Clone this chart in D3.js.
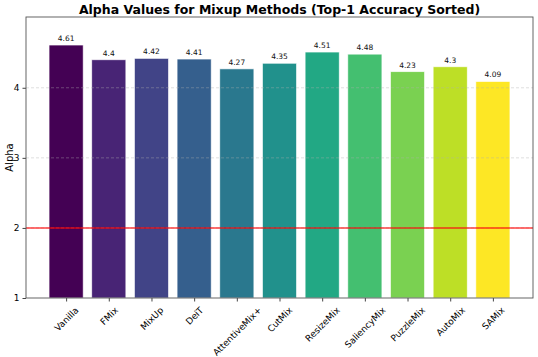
<!DOCTYPE html>
<html><head><meta charset="utf-8">
<script src="https://cdn.jsdelivr.net/npm/d3@7"></script>
<style>body{margin:0;background:#fff}svg{display:block;font-family:"DejaVu Sans",sans-serif}svg text{font-family:"DejaVu Sans",sans-serif}</style>
</head><body>
<svg id="c" width="538" height="357"></svg>
<script>
const methods = ["Vanilla","FMix","MixUp","DeiT","AttentiveMix+","CutMix","ResizeMix","SaliencyMix","PuzzleMix","AutoMix","SAMix"];
const alphas = [4.61,4.4,4.42,4.41,4.27,4.35,4.51,4.48,4.23,4.3,4.09];
const yTicks = [1,2,3,4];
const refLine = 2;

const svg = d3.select("#c");
const L=26, R=533, T=17, B=298;
const x = d3.scaleLinear().domain([-0.94, 10.94]).range([L,R]);
const y = d3.scaleLinear().domain([1, 5.01]).range([B,T]);
const bw = x(0.8)-x(0);
const n = methods.length;
const color = i => d3.interpolateViridis(i/(n-1));

const g = svg.append("g");
g.selectAll("rect.bar").data(alphas).join("rect").attr("class","bar")
  .attr("x",(d,i)=>x(i)-bw/2).attr("width",bw)
  .attr("y",d=>y(d)).attr("height",d=>B-y(d))
  .attr("fill",(d,i)=>color(i)).attr("stroke","#fff").attr("stroke-opacity",0.8).attr("stroke-width",0.8);

// grid
g.selectAll("line.grid").data(yTicks.slice(1)).join("line")
  .attr("x1",L).attr("x2",R).attr("y1",d=>y(d)).attr("y2",d=>y(d))
  .attr("stroke","#b0b0b0").attr("stroke-opacity",0.5).attr("stroke-width",0.8).attr("stroke-dasharray","3,2");

// reference line
g.append("line").attr("x1",L).attr("x2",R).attr("y1",y(refLine)).attr("y2",y(refLine))
  .attr("stroke","red").attr("stroke-opacity",0.75).attr("stroke-width",1.5);

// labels
g.selectAll("text.val").data(alphas).join("text")
  .attr("x",(d,i)=>x(i)).attr("y",d=>y(d)-4).attr("text-anchor","middle")
  .attr("font-size","7.5px").attr("fill","#111").text(d=>d);

// axes
const yAxis = d3.axisLeft(y).tickValues(yTicks).tickSize(3.5).tickPadding(3).tickFormat(d3.format("d"));
const ya = svg.append("g").attr("transform",`translate(${L},0)`).call(yAxis);
ya.attr("font-family","DejaVu Sans").attr("font-size",9);
ya.select(".domain").remove();
ya.selectAll("text").attr("font-size","9px").attr("fill","#000");
ya.selectAll("line").attr("stroke","#444");

const xAxis = d3.axisBottom(x).tickValues(d3.range(n)).tickSize(3.5).tickFormat(i=>methods[i]);
const xa = svg.append("g").attr("transform",`translate(0,${B})`).call(xAxis);
xa.attr("font-family","DejaVu Sans").attr("font-size",9);
xa.select(".domain").remove();
xa.selectAll("line").attr("stroke","#444");
const fs = 9, pad = 7;
xa.selectAll("text").attr("font-size",fs+"px").attr("fill","#000")
  .attr("text-anchor","middle").attr("dy",null).attr("dominant-baseline","central")
  .each(function(){
    const len = this.getComputedTextLength();
    const h = fs*1.15;
    const cy = pad + (len+h)*Math.SQRT1_2/2;
    d3.select(this).attr("x",0).attr("y",0).attr("transform",`translate(0,${cy}) rotate(-45)`);
  });

// frame
svg.append("rect").attr("x",L).attr("y",T).attr("width",R-L).attr("height",B-T)
  .attr("fill","none").attr("stroke","#555").attr("stroke-width",0.9);

svg.append("text").attr("x",(L+R)/2).attr("y",13.5).attr("text-anchor","middle")
  .attr("font-size","12.5px").attr("font-weight","bold").text("Alpha Values for Mixup Methods (Top-1 Accuracy Sorted)");
svg.append("text").attr("transform",`translate(13,${(T+B)/2}) rotate(-90)`).attr("text-anchor","middle")
  .attr("font-size","10px").text("Alpha");
</script>
</body></html>
